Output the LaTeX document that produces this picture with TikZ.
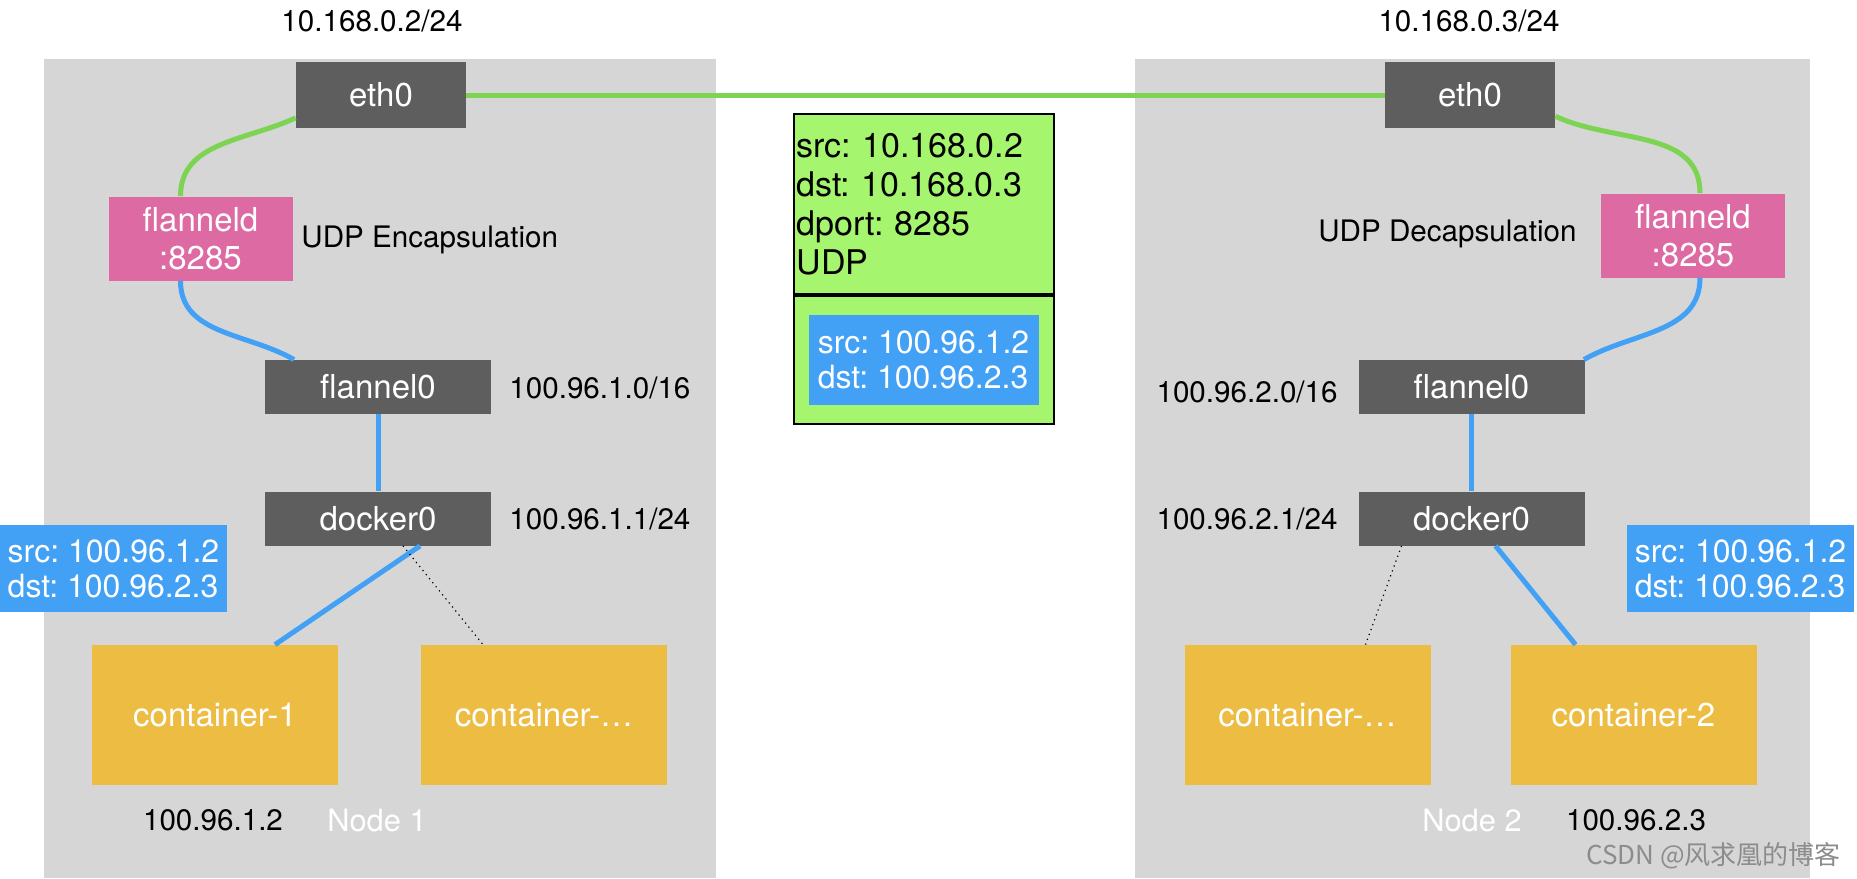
\documentclass[tikz,border=0pt]{standalone}
\usepackage{fontspec}
\setmainfont{TeX Gyre Heros}
\newfontfamily\cjkfont{Noto Sans CJK SC}
\usepackage{xcolor}
\usepackage{tikz}
\usetikzlibrary{positioning,calc}
\frenchspacing

\definecolor{panelgray}{RGB}{214,214,214}
\definecolor{devgray}{RGB}{94,94,94}
\definecolor{flpink}{RGB}{222,106,164}
\definecolor{ctyellow}{RGB}{237,188,66}
\definecolor{pktblue}{RGB}{66,160,245}
\definecolor{pktgreen}{RGB}{166,245,110}
\definecolor{wiregreen}{RGB}{125,212,82}

\tikzset{
  panel/.style={fill=panelgray, draw=none},
  devbox/.style={fill=devgray, text=white, minimum width=113pt, minimum height=27pt, inner sep=0pt, font=\fontsize{16.5pt}{19pt}\selectfont},
  ethbox/.style={devbox, minimum width=85pt, minimum height=33pt},
  flbox/.style={fill=flpink, text=white, minimum width=92pt, minimum height=42pt, inner sep=0pt, align=center, font=\fontsize{16.5pt}{19pt}\selectfont},
  ctbox/.style={fill=ctyellow, text=white, minimum width=123pt, minimum height=70pt, inner sep=0pt, font=\fontsize{16.5pt}{19pt}\selectfont},
  pktbox/.style={fill=pktblue, text=white, minimum width=113.5pt, minimum height=43.5pt, inner sep=0pt, align=left, font=\fontsize{16pt}{17.5pt}\selectfont},
  pkttop/.style={draw=black, line width=1pt, fill=pktgreen, minimum height=90pt, text width=127pt, inner xsep=1.5pt, inner ysep=0pt, align=left, font=\fontsize{17pt}{19.5pt}\selectfont},
  pktbottom/.style={draw=black, line width=1pt, fill=pktgreen, minimum height=64pt, minimum width=130pt, inner sep=0pt},
  iplabel/.style={font=\fontsize{14.8pt}{17pt}\selectfont, inner sep=0pt},
  nodelabel/.style={iplabel, text=white, font=\fontsize{15.4pt}{17pt}\selectfont},
  greenwire/.style={draw=wiregreen, line width=2.5pt},
  bluewire/.style={draw=pktblue, line width=2.5pt},
  dotwire/.style={draw=black, dotted, line width=0.6pt},
}

\begin{document}
\begin{tikzpicture}[x=0.5pt, y=0.5pt]
  \useasboundingbox (0,0) rectangle (1857,-878);

  % host panels
  \fill[panel] (44,-59) rectangle (716,-878);
  \fill[panel] (1135,-59) rectangle (1810,-878);

  % Node 1
  \node[iplabel] (ipL) at (372,-21) {10.168.0.2/24};
  \node[ethbox] (eth0L) at (381,-95) {eth0};
  \node[flbox] (flL) at (200.5,-238.5) {flanneld\\:8285};
  \node[iplabel, anchor=west] (encap) at (301,-240) {UDP Encapsulation};
  \node[devbox] (fl0L) at (378,-387) {flannel0};
  \node[iplabel, anchor=west] (netL) at (509,-388) {100.96.1.0/16};
  \node[devbox] (dk0L) at (378,-518.5) {docker0};
  \node[iplabel, anchor=west] (brL) at (509,-519) {100.96.1.1/24};
  \node[pktbox] (pktL) at (113.5,-568.5) {src: 100.96.1.2\\dst: 100.96.2.3};
  \node[ctbox] (ct1) at (215,-715) {container-1};
  \node[ctbox] (ctdotsL) at (544,-715) {container-\dots};
  \node[iplabel] (ct1ip) at (213,-820) {100.96.1.2};
  \node[nodelabel] (host1) at (377,-820) {Node 1};

  % Node 2
  \node[iplabel] (ipR) at (1469,-21) {10.168.0.3/24};
  \node[ethbox] (eth0R) at (1470,-95) {eth0};
  \node[flbox] (flR) at (1693,-235.5) {flanneld\\:8285};
  \node[iplabel, anchor=east] (decap) at (1577,-234) {UDP Decapsulation};
  \node[devbox] (fl0R) at (1471.5,-387) {flannel0};
  \node[iplabel, anchor=east] (netR) at (1338,-392) {100.96.2.0/16};
  \node[devbox] (dk0R) at (1471.5,-518.5) {docker0};
  \node[iplabel, anchor=east] (brR) at (1338,-519) {100.96.2.1/24};
  \node[pktbox] (pktR) at (1740.5,-568.5) {src: 100.96.1.2\\dst: 100.96.2.3};
  \node[ctbox] (ctdotsR) at (1307.5,-715) {container-\dots};
  \node[ctbox] (ct2) at (1633.5,-715) {container-2};
  \node[nodelabel] (host2) at (1472,-820) {Node 2};
  \node[iplabel] (ct2ip) at (1636,-820) {100.96.2.3};

  % encapsulated packet
  \node[pkttop] (pkthead) at (923.5,-204) {src: 10.168.0.2\\dst: 10.168.0.3\\dport: 8285\\UDP};
  \node[pktbottom, below=0pt of pkthead] (pktbody) {};
  \node[pktbox, minimum width=115pt, minimum height=45pt] (pktinner) at (pktbody) {src: 100.96.1.2\\dst: 100.96.2.3};

  % wires
  \draw[greenwire] (eth0L.east) -- (eth0R.west);
  \draw[greenwire] (eth0L.195) to[out=205, in=90] ([xshift=-10pt]flL.north);
  \draw[bluewire] ([xshift=-10pt]flL.south) to[out=-90, in=150] ([xshift=-42pt]fl0L.north);
  \draw[bluewire] (fl0L.south) -- (dk0L.north);
  \draw[bluewire] ([xshift=21pt]dk0L.south) -- ([xshift=30pt]ct1.north);
  \draw[dotwire] ([xshift=12.5pt]dk0L.south) -- ([xshift=-30.5pt]ctdotsL.north);

  \draw[greenwire] (eth0R.-14) to[out=-25, in=90] ([xshift=3.5pt]flR.north);
  \draw[bluewire] ([xshift=3.5pt]flR.south) to[out=-90, in=30] ([xshift=-0.5pt]fl0R.north east);
  \draw[bluewire] (fl0R.south) -- (dk0R.north);
  \draw[dotwire] ([xshift=-35pt]dk0R.south) -- ([xshift=29pt]ctdotsR.north);
  \draw[bluewire] ([xshift=12pt]dk0R.south) -- ([xshift=-29pt]ct2.north);

  % watermark
  \node[font=\cjkfont\fontsize{13pt}{15pt}\selectfont, text=black!45, anchor=east, inner sep=0pt] (wmark) at (1841,-856) {CSDN @风求凰的博客};
\end{tikzpicture}
\end{document}
